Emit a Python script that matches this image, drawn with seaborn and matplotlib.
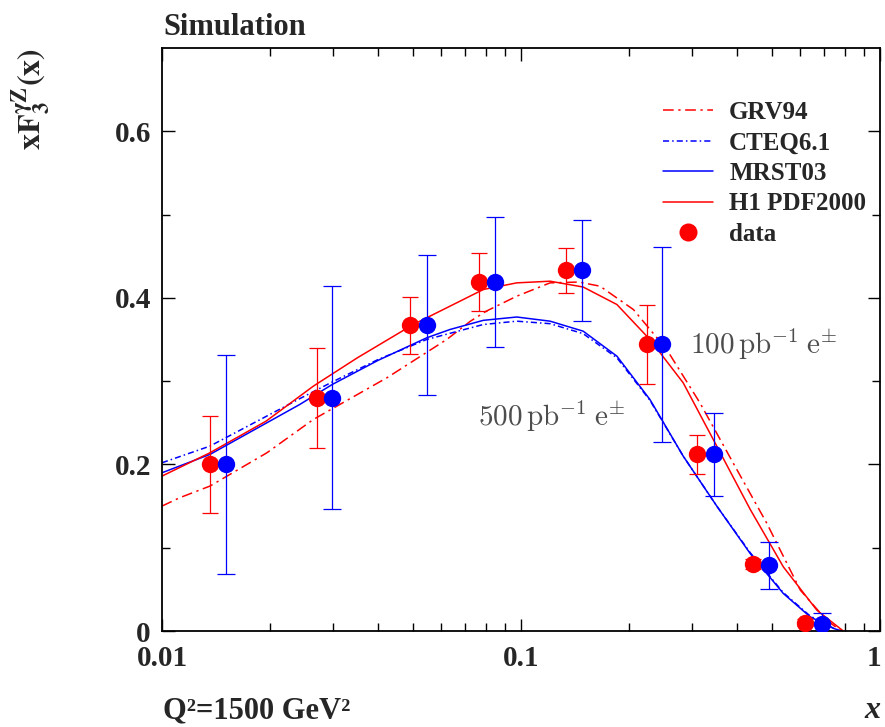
import numpy as np
import pandas as pd
import matplotlib
matplotlib.use("Agg")
import matplotlib.pyplot as plt
from matplotlib.lines import Line2D
from matplotlib.transforms import ScaledTranslation
from matplotlib.ticker import FixedLocator, FixedFormatter, LogLocator, NullFormatter
import seaborn as sns

# ---- pseudo-data: 100 pb^-1 (red) and 500 pb^-1 (blue) ----
x_100 = [0.0136, 0.0270, 0.0492, 0.0765, 0.1338, 0.2240, 0.310, 0.4426, 0.619]
y_100 = [0.200, 0.280, 0.367, 0.419, 0.433, 0.344, 0.212, 0.080, 0.010]
e_100 = [0.058, 0.060, 0.034, 0.035, 0.027, 0.047, 0.023, 0.006, 0.004]

x_500 = [0.01506, 0.0298, 0.0546, 0.0844, 0.148, 0.247, 0.3446, 0.4916, 0.688]
y_500 = [0.200, 0.280, 0.367, 0.419, 0.433, 0.344, 0.212, 0.079, 0.009]
e_500 = [0.131, 0.134, 0.084, 0.078, 0.061, 0.117, 0.050, 0.028, 0.013]

# ---- PDF predictions ----
x_grv = [0.0100, 0.0112, 0.0136, 0.0196, 0.0264, 0.0423, 0.0621, 0.0723, 0.0800,
         0.0973, 0.1205, 0.145, 0.166, 0.2056, 0.2546, 0.315, 0.390, 0.4836, 0.600,
         0.710, 0.78]
y_grv = [0.150, 0.160, 0.174, 0.214, 0.254, 0.304, 0.350, 0.372, 0.384,
         0.402, 0.418, 0.419, 0.414, 0.386, 0.338, 0.274, 0.2017, 0.1295, 0.049,
         0.013, 0.0]

x_cteq = [0.0100, 0.0136, 0.0242, 0.0298, 0.0400, 0.0546, 0.0785, 0.0973, 0.1205,
          0.149, 0.185, 0.2286, 0.283, 0.351, 0.435, 0.538, 0.639, 0.744, 0.78]
y_cteq = [0.202, 0.222, 0.279, 0.299, 0.326, 0.350, 0.368, 0.372, 0.369,
          0.357, 0.328, 0.277, 0.210, 0.150, 0.094, 0.046, 0.018, 0.003, 0.0]

x_mrst = [0.0100, 0.0136, 0.0242, 0.0298, 0.0400, 0.0546, 0.0634, 0.0785, 0.0973,
          0.1205, 0.149, 0.185, 0.2286, 0.283, 0.351, 0.435, 0.538, 0.639, 0.744, 0.78]
y_mrst = [0.190, 0.212, 0.272, 0.296, 0.325, 0.352, 0.362, 0.373, 0.377,
          0.372, 0.360, 0.330, 0.278, 0.210, 0.150, 0.093, 0.045, 0.017, 0.003, 0.0]

x_h1 = [0.0100, 0.0136, 0.0195, 0.0264, 0.0350, 0.0501, 0.0634, 0.0785, 0.0973,
        0.1205, 0.149, 0.185, 0.2286, 0.283, 0.351, 0.435, 0.538, 0.667, 0.79]
y_h1 = [0.186, 0.214, 0.252, 0.294, 0.328, 0.368, 0.390, 0.410, 0.418,
        0.420, 0.413, 0.392, 0.350, 0.298, 0.222, 0.146, 0.077, 0.025, 0.0]

models = ["GRV94", "CTEQ6.1", "MRST03", "H1 PDF2000"]
y_ticks = [0.0, 0.2, 0.4, 0.6]
y_tick_labels = ["0", "0.2", "0.4", "0.6"]
x_ticks = [0.01, 0.1, 1.0]
x_tick_labels = ["0.01", "0.1", "1"]

curves = pd.concat([
    pd.DataFrame({"x": x_grv, "y": y_grv, "pdf": "GRV94"}),
    pd.DataFrame({"x": x_cteq, "y": y_cteq, "pdf": "CTEQ6.1"}),
    pd.DataFrame({"x": x_mrst, "y": y_mrst, "pdf": "MRST03"}),
    pd.DataFrame({"x": x_h1, "y": y_h1, "pdf": "H1 PDF2000"}),
], ignore_index=True)

RED, BLUE = "#ff0000", "#0000ff"
palette = {"GRV94": RED, "CTEQ6.1": BLUE, "MRST03": BLUE, "H1 PDF2000": RED}
dash_grv = (7, 3, 1.5, 3)
dash_cteq = (4, 2, 1, 2)
dashes = {"GRV94": dash_grv, "CTEQ6.1": dash_cteq, "MRST03": "", "H1 PDF2000": ""}

sns.set_theme(style="ticks")
plt.rcParams["font.family"] = ["Liberation Serif", "DejaVu Serif"]
plt.rcParams["mathtext.fontset"] = "stix"

fig = plt.figure(figsize=(8.85, 7.27), dpi=100)
ax = fig.add_axes([162 / 885, 1 - 631 / 727, 718 / 885, 583 / 727])
ax.set_xscale("log")

sns.lineplot(data=curves, x="x", y="y", hue="pdf", style="pdf",
             hue_order=models, style_order=models, palette=palette,
             dashes=dashes, linewidth=1.1, legend=False, sort=False,
             estimator=None, ax=ax, zorder=2)

ax.errorbar(x_100, y_100, yerr=e_100, fmt="o", color=RED, ms=12.5, mec="none",
            elinewidth=0.9, capsize=6, capthick=0.9, zorder=3)
ax.errorbar(x_500, y_500, yerr=e_500, fmt="o", color=BLUE, ms=12.5, mec="none",
            elinewidth=0.9, capsize=6.5, capthick=0.9, zorder=4)

ax.set_xlim(0.01, 1.0)
ax.set_ylim(0.0, 0.7)

ax.xaxis.set_major_locator(FixedLocator(x_ticks))
ax.xaxis.set_major_formatter(FixedFormatter(x_tick_labels))
ax.xaxis.set_minor_locator(LogLocator(base=10, subs=np.arange(2, 10)))
ax.xaxis.set_minor_formatter(NullFormatter())
ax.yaxis.set_major_locator(FixedLocator(y_ticks))
ax.yaxis.set_major_formatter(FixedFormatter(y_tick_labels))
ax.yaxis.set_minor_locator(FixedLocator([0.1, 0.3, 0.5]))

ax.tick_params(which="both", direction="in", top=True, right=True, width=1.0,
               color="black")
ax.tick_params(which="major", length=9)
ax.tick_params(which="minor", length=6)
ax.tick_params(axis="y", which="major", pad=8, labelsize=21)
ax.tick_params(axis="x", which="major", pad=10, labelsize=21)
for lab in ax.get_xticklabels() + ax.get_yticklabels():
    lab.set_fontweight("bold")
# keep the "1" at the right end inside the canvas
last = ax.get_xticklabels()[-1]
last.set_transform(last.get_transform()
                   + ScaledTranslation(-6 / 100, 0, fig.dpi_scale_trans))
for sp in ax.spines.values():
    sp.set_linewidth(1.3)
    sp.set_color("black")
ax.set_xlabel("")
ax.set_ylabel("")

# legend
handles = [
    Line2D([], [], color=RED, lw=1.1, dashes=dash_grv),
    Line2D([], [], color=BLUE, lw=1.1, dashes=dash_cteq),
    Line2D([], [], color=BLUE, lw=1.1),
    Line2D([], [], color=RED, lw=1.1),
    Line2D([], [], color=RED, lw=0, marker="o", ms=13, mec="none"),
]
leg = ax.legend(handles, models + ["data"], loc="upper left",
                bbox_to_anchor=((663 - 162) / 718, (631 - 101) / 583),
                frameon=False, borderpad=0, borderaxespad=0,
                handlelength=2.0, handletextpad=0.65, labelspacing=0.3,
                prop={"family": "Liberation Serif", "weight": "bold", "size": 18})

# luminosity annotations
ax.text(0.2957, 0.332, r"$100\,\mathrm{pb}^{-1}\;\mathrm{e}^{\pm}$",
        math_fontfamily="cm", color="#4d4d4d", fontsize=21, va="baseline")
ax.text(0.0759, 0.2456, r"$500\,\mathrm{pb}^{-1}\;\mathrm{e}^{\pm}$",
        math_fontfamily="cm", color="#4d4d4d", fontsize=21, va="baseline")

# figure texts
fig.text(163 / 885, 1 - 35 / 727, "Simulation", fontsize=22, fontweight="bold",
         va="baseline", ha="left")
fig.text(32 / 885, 1 - 99 / 727, r"$\mathbf{xF_3^{\gamma Z}(x)}$", fontsize=23,
         rotation=90, va="center", ha="center")
fig.text(163 / 885, 1 - 718 / 727, "Q²=1500 GeV²", fontsize=22, fontweight="bold",
         va="baseline", ha="left")
fig.text(880 / 885, 1 - 718 / 727, "x", fontsize=23, fontweight="bold",
         fontstyle="italic", va="baseline", ha="right")

fig.savefig("out.png", dpi=100, facecolor="white")
